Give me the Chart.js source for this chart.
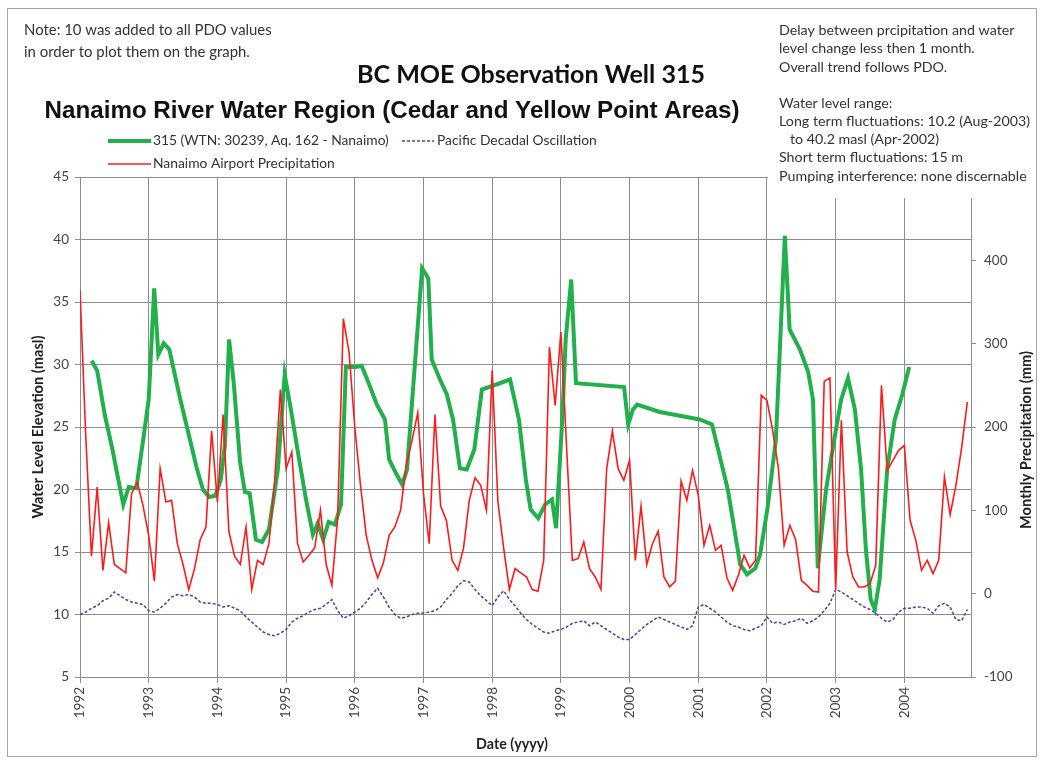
<!DOCTYPE html>
<html>
<head>
<meta charset="utf-8">
<title>BC MOE Observation Well 315</title>
<script src="https://cdn.jsdelivr.net/npm/chart.js@4.4.1/dist/chart.umd.min.js"></script>
<style>
  html, body { margin: 0; padding: 0; background: #fff; }
  #wrap { width: 1044px; height: 761px; }
</style>
</head>
<body>
<div id="wrap"><canvas id="well_chart" width="1044" height="761"></canvas></div>
<script>
// Well 315 water level (masl), sparse readings, decimal year
var wellDates = [
  1992.17, 1992.25, 1992.36, 1992.48, 1992.55, 1992.63, 1992.71, 1992.82, 1992.92, 1993.00,
  1993.08, 1993.14, 1993.22, 1993.30, 1993.46, 1993.60, 1993.70, 1993.79, 1993.88, 1993.97,
  1994.05, 1994.11, 1994.17, 1994.24, 1994.33, 1994.40, 1994.47, 1994.56, 1994.65, 1994.75,
  1994.88, 1994.98, 1995.07, 1995.19, 1995.29, 1995.39, 1995.46, 1995.54, 1995.62, 1995.71,
  1995.80, 1995.87, 1996.02, 1996.10, 1996.21, 1996.32, 1996.44, 1996.50, 1996.59, 1996.69,
  1996.76, 1996.98, 1997.07, 1997.12, 1997.24, 1997.34, 1997.43, 1997.53, 1997.63, 1997.74,
  1997.85, 1998.06, 1998.26, 1998.39, 1998.49, 1998.56, 1998.67, 1998.77, 1998.87, 1998.93,
  1999.02, 1999.07, 1999.15, 1999.22, 1999.92, 1999.98, 2000.05, 2000.11, 2000.44, 2001.02,
  2001.20, 2001.43, 2001.61, 2001.71, 2001.83, 2001.90, 2002.01, 2002.13, 2002.26, 2002.33,
  2002.48, 2002.60, 2002.67, 2002.74, 2002.86, 2002.98, 2003.08, 2003.18, 2003.28, 2003.37,
  2003.44, 2003.51, 2003.57, 2003.64, 2003.75, 2003.86, 2003.97, 2004.07
];
var wellLevels = [
  30.3, 29.5, 26.0, 23.0, 21.0, 18.8, 20.2, 20.1, 24.0, 27.2,
  36.1, 30.8, 31.7, 31.2, 27.2, 24.0, 21.7, 20.0, 19.4, 19.5,
  20.8, 23.6, 32.0, 28.4, 22.2, 19.8, 19.7, 16.0, 15.8, 16.8,
  21.6, 29.2, 26.4, 22.4, 19.2, 16.4, 17.3, 16.0, 17.4, 17.2,
  18.8, 29.8, 29.8, 29.9, 28.4, 26.8, 25.6, 22.4, 21.4, 20.4,
  21.6, 37.7, 36.9, 30.4, 28.8, 27.6, 25.6, 21.7, 21.6, 23.2,
  28.0, 28.4, 28.8, 25.6, 20.8, 18.4, 17.7, 18.8, 19.2, 16.9,
  25.6, 32.0, 36.8, 28.5, 28.2, 25.2, 26.4, 26.8, 26.2, 25.6,
  25.2, 20.0, 14.0, 13.2, 13.7, 14.8, 18.6, 24.0, 40.3, 32.8,
  31.2, 29.4, 27.2, 13.7, 20.0, 24.0, 27.2, 28.9, 26.4, 21.6,
  15.2, 11.2, 10.4, 12.8, 21.6, 25.6, 27.6, 29.8
];

// Monthly series start Jan 1992, one value per month through Dec 2004
var firstYear = 1992;

// Pacific Decadal Oscillation (raw index; 10 is added when plotted)
var pdo1992 = [0.0, 0.2, 0.5, 0.7, 1.1, 1.3, 1.8, 1.5, 1.2, 1.0, 0.9, 0.8];
var pdo1993 = [0.3, 0.2, 0.5, 0.9, 1.4, 1.6, 1.5, 1.6, 1.4, 1.0, 0.9, 0.9];
var pdo1994 = [0.8, 0.6, 0.7, 0.5, 0.3, -0.2, -0.6, -1.0, -1.4, -1.6, -1.7, -1.5];
var pdo1995 = [-1.2, -0.6, -0.3, -0.1, 0.2, 0.4, 0.5, 0.8, 1.2, 0.3, -0.3, -0.1];
var pdo1996 = [0.2, 0.5, 1.0, 1.6, 2.1, 1.4, 0.6, 0.0, -0.3, -0.2, 0.0, 0.1];
var pdo1997 = [0.1, 0.2, 0.3, 0.6, 1.2, 1.7, 2.3, 2.7, 2.6, 2.0, 1.5, 1.1];
var pdo1998 = [0.7, 1.4, 1.9, 1.2, 0.7, 0.1, -0.4, -0.8, -1.1, -1.4, -1.5, -1.3];
var pdo1999 = [-1.2, -1.0, -0.7, -0.6, -0.5, -0.9, -0.6, -0.9, -1.2, -1.5, -1.8, -2.0];
var pdo2000 = [-2.0, -1.6, -1.2, -0.8, -0.5, -0.2, -0.4, -0.6, -0.8, -1.0, -1.2, -0.9];
var pdo2001 = [0.6, 0.8, 0.5, 0.2, -0.2, -0.6, -0.9, -1.0, -1.2, -1.3, -1.1, -0.9];
var pdo2002 = [-0.2, -0.7, -0.6, -0.8, -0.6, -0.5, -0.3, -0.7, -0.5, -0.2, 0.3, 0.9];
var pdo2003 = [2.0, 1.8, 1.5, 1.2, 0.9, 0.6, 0.4, 0.1, -0.3, -0.6, -0.4, 0.2];
var pdo2004 = [0.5, 0.5, 0.6, 0.6, 0.5, 0.1, 0.7, 0.9, 0.6, -0.4, -0.5, 0.4];
var pdoOffset = 10;

// Nanaimo Airport monthly precipitation (mm)
var rain1992 = [364, 190, 45, 128, 28, 85, 35, 30, 25, 120, 134, 106];
var rain1993 = [70, 15, 150, 110, 112, 60, 35, 5, 30, 65, 80, 195];
var rain1994 = [110, 215, 75, 45, 35, 80, 5, 40, 35, 60, 135, 245];
var rain1995 = [150, 170, 60, 38, 46, 55, 100, 35, 10, 90, 330, 290];
var rain1996 = [200, 130, 70, 40, 19, 37, 70, 80, 100, 155, 184, 217];
var rain1997 = [120, 60, 215, 105, 88, 40, 28, 55, 112, 139, 130, 100];
var rain1998 = [268, 110, 55, 5, 30, 25, 20, 5, 3, 40, 296, 226];
var rain1999 = [314, 175, 40, 42, 62, 30, 20, 5, 150, 195, 150, 136];
var rain2000 = [160, 40, 105, 35, 60, 75, 20, 8, 15, 135, 112, 148];
var rain2001 = [118, 58, 82, 52, 58, 19, 4, 22, 46, 31, 40, 238];
var rain2002 = [232, 196, 150, 58, 82, 65, 16, 10, 3, 2, 255, 259];
var rain2003 = [5, 208, 50, 20, 8, 8, 12, 34, 250, 148, 160, 172];
var rain2004 = [178, 88, 64, 28, 40, 24, 40, 140, 95, 130, 175, 230];

var yearLabels = ['1992', '1993', '1994', '1995', '1996', '1997', '1998',
                  '1999', '2000', '2001', '2002', '2003', '2004'];

var noteLeft = ['Note: 10 was added to all PDO values',
                'in order to plot them on the graph.'];
var noteRight = ['Delay between prcipitation and water',
                 'level change less then 1 month.',
                 'Overall trend follows PDO.',
                 '',
                 'Water level range:',
                 'Long term fluctuations: 10.2 (Aug-2003)',
                 '   to 40.2 masl (Apr-2002)',
                 'Short term fluctuations: 15 m',
                 'Pumping interference: none discernable'];

var wellLabel = '315 (WTN: 30239, Aq. 162 - Nanaimo)';
var pdoLabel = 'Pacific Decadal Oscillation';
var rainLabel = 'Nanaimo Airport Precipitation';

var GREEN = '#21b04b';
var RED = '#ff1a1a';
var PURPLE = '#5b3a9a';
var GRID = '#8d8d8d';
var TEXT = '#444';
var CAL = 'Lato, "Open Sans", sans-serif';

// ---- build point lists ----
function monthly(years) {
    var out = [];
    years.forEach(function (arr, yi) {
        arr.forEach(function (v, mi) {
            out.push({ x: firstYear + yi + mi / 12, y: v });
        });
    });
    return out;
}

var wellPts = wellDates.map(function (d, i) { return { x: d, y: wellLevels[i] }; });
var rainPts = monthly([rain1992, rain1993, rain1994, rain1995, rain1996, rain1997, rain1998,
                       rain1999, rain2000, rain2001, rain2002, rain2003, rain2004]);
var pdoPts = monthly([pdo1992, pdo1993, pdo1994, pdo1995, pdo1996, pdo1997, pdo1998,
                      pdo1999, pdo2000, pdo2001, pdo2002, pdo2003, pdo2004])
    .map(function (p) { return { x: p.x, y: p.y + pdoOffset }; });

// font size that makes `text` span `width` pixels
function fitFont(c, text, width, weight, family) {
    c.font = weight + ' 20px ' + family;
    var s = 20 * width / c.measureText(text).width;
    return weight + ' ' + s.toFixed(2) + 'px ' + family;
}

var decorPlugin = {
    id: 'decor',
    afterDraw: function (chart) {
        var c = chart.ctx;
        c.save();

        // outer frame
        c.strokeStyle = '#a6a6a6';
        c.lineWidth = 1;
        c.strokeRect(7.5, 8.5, 1029, 748);

        // white note box in the upper right covers the top of the plot
        c.fillStyle = '#fff';
        c.fillRect(768, 12, 266, 186);

        c.textBaseline = 'middle';
        c.textAlign = 'left';
        c.fillStyle = '#333';

        // left note
        c.font = fitFont(c, noteLeft[0], 248, '', CAL);
        c.fillText(noteLeft[0], 24, 30);
        c.fillText(noteLeft[1], 24, 52);

        // right notes
        c.font = fitFont(c, noteRight[5], 251, '', CAL);
        var ry = [30, 48, 67, 85, 103, 121, 139, 157, 176];
        noteRight.forEach(function (t, i) {
            if (t) c.fillText(t, 779, ry[i]);
        });

        // titles
        c.fillStyle = '#111';
        c.textAlign = 'center';
        var t1 = 'BC MOE Observation Well 315';
        c.font = fitFont(c, t1, 348, 'bold', CAL);
        c.fillText(t1, 531, 75);
        var t2 = 'Nanaimo River Water Region (Cedar and Yellow Point Areas)';
        c.font = fitFont(c, t2, 695, 'bold', '"Liberation Sans", Arial, sans-serif');
        c.fillText(t2, 392, 111);

        // legend
        c.textAlign = 'left';
        c.fillStyle = '#333';
        c.font = fitFont(c, wellLabel, 236, '', CAL);
        c.lineWidth = 4;
        c.strokeStyle = GREEN;
        c.beginPath(); c.moveTo(108, 141); c.lineTo(151, 141); c.stroke();
        c.fillText(wellLabel, 153, 141);
        c.lineWidth = 1.5;
        c.strokeStyle = PURPLE;
        c.setLineDash([3, 2]);
        c.beginPath(); c.moveTo(402, 141); c.lineTo(434, 141); c.stroke();
        c.setLineDash([]);
        c.fillText(pdoLabel, 437, 141);
        c.strokeStyle = RED;
        c.beginPath(); c.moveTo(108, 164); c.lineTo(151, 164); c.stroke();
        c.fillText(rainLabel, 153, 164);

        // axis titles
        c.fillStyle = '#222';
        c.textAlign = 'center';
        var yt = 'Water Level Elevation (masl)';
        c.font = fitFont(c, yt, 183, 'bold', CAL);
        c.save();
        c.translate(38, 427);
        c.rotate(-Math.PI / 2);
        c.fillText(yt, 0, 0);
        c.restore();
        var y2t = 'Monthly Precipitation (mm)';
        c.font = fitFont(c, y2t, 178, 'bold', CAL);
        c.save();
        c.translate(1026, 440);
        c.rotate(-Math.PI / 2);
        c.fillText(y2t, 0, 0);
        c.restore();
        var xt = 'Date (yyyy)';
        c.font = fitFont(c, xt, 72, 'bold', CAL);
        c.fillText(xt, 512, 744);

        c.restore();
    }
};

var ctx = document.getElementById('well_chart').getContext('2d');

var wellChart = new Chart(ctx, {
    type: 'line',
    data: {
        datasets: [{
            label: rainLabel,
            data: rainPts,
            yAxisID: 'y2',
            borderColor: RED,
            borderWidth: 1.6,
            pointRadius: 0,
            tension: 0
        }, {
            label: wellLabel,
            data: wellPts,
            yAxisID: 'y',
            borderColor: GREEN,
            borderWidth: 4,
            pointRadius: 0,
            tension: 0
        }, {
            label: pdoLabel,
            data: pdoPts,
            yAxisID: 'y',
            borderColor: PURPLE,
            borderWidth: 1.5,
            borderDash: [3, 2],
            pointRadius: 0,
            tension: 0
        }]
    },
    options: {
        responsive: false,
        animation: false,
        layout: { padding: { left: 25, right: 0, top: 177, bottom: 0 } },
        plugins: {
            legend: { display: false },
            title: { display: false },
            tooltip: { enabled: false }
        },
        scales: {
            x: {
                type: 'linear',
                min: 1992,
                max: 2004.97,
                afterFit: function (s) { s.height = 84; },
                ticks: {
                    stepSize: 1,
                    includeBounds: false,
                    autoSkip: false,
                    minRotation: 90,
                    maxRotation: 90,
                    padding: 4,
                    color: TEXT,
                    font: { family: CAL, size: 13.5 },
                    callback: function (v) { return yearLabels[v - firstYear]; }
                },
                grid: { color: GRID, tickLength: 6 },
                border: { color: GRID }
            },
            y: {
                position: 'left',
                min: 5,
                max: 45,
                afterFit: function (s) { s.width = 55; },
                ticks: {
                    stepSize: 5,
                    padding: 6,
                    color: TEXT,
                    font: { family: CAL, size: 13.5 }
                },
                grid: { color: GRID, tickLength: 5 },
                border: { color: GRID }
            },
            y2: {
                position: 'right',
                min: -100,
                max: 500,
                afterFit: function (s) { s.width = 73; },
                ticks: {
                    stepSize: 100,
                    padding: 8,
                    color: TEXT,
                    font: { family: CAL, size: 13.5 },
                    callback: function (v) { return v >= 500 ? '' : v; }
                },
                grid: { drawOnChartArea: false, color: GRID, tickLength: 5 },
                border: { color: GRID }
            }
        }
    },
    plugins: [decorPlugin]
});
</script>
</body>
</html>
